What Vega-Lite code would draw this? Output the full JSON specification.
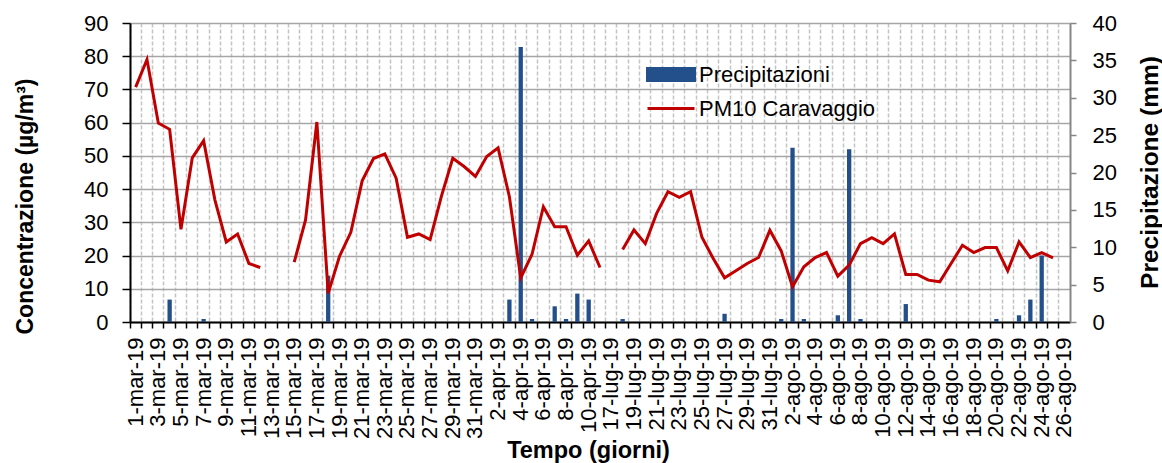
{
  "$schema": "https://vega.github.io/schema/vega-lite/v6.json",
  "width": 940,
  "height": 299,
  "autosize": {"type": "none"},
  "padding": {"left": 130, "top": 23, "right": 92, "bottom": 141},
  "config": {
    "font": "Liberation Sans",
    "view": {"stroke": null},
    "axis": {"labelFont": "Liberation Sans", "titleFont": "Liberation Sans"}
  },
  "data": {
    "values": [
      {"d": "1-mar-19", "pm": 70.7, "pr": 0},
      {"d": "2-mar-19", "pm": 79.0, "pr": 0},
      {"d": "3-mar-19", "pm": 59.9, "pr": 0},
      {"d": "4-mar-19", "pm": 58.0, "pr": 3.0},
      {"d": "5-mar-19", "pm": 27.9, "pr": 0},
      {"d": "6-mar-19", "pm": 49.4, "pr": 0},
      {"d": "7-mar-19", "pm": 54.6, "pr": 0.4},
      {"d": "8-mar-19", "pm": 36.7, "pr": 0},
      {"d": "9-mar-19", "pm": 24.1, "pr": 0},
      {"d": "10-mar-19", "pm": 26.5, "pr": 0},
      {"d": "11-mar-19", "pm": 17.6, "pr": 0},
      {"d": "12-mar-19", "pm": 16.4, "pr": 0},
      {"d": "13-mar-19", "pm": null, "pr": 0},
      {"d": "14-mar-19", "pm": null, "pr": 0},
      {"d": "15-mar-19", "pm": 18.0, "pr": 0},
      {"d": "16-mar-19", "pm": 30.7, "pr": 0},
      {"d": "17-mar-19", "pm": 60.2, "pr": 0},
      {"d": "18-mar-19", "pm": 8.6, "pr": 6.2},
      {"d": "19-mar-19", "pm": 19.8, "pr": 0},
      {"d": "20-mar-19", "pm": 27.0, "pr": 0},
      {"d": "21-mar-19", "pm": 42.5, "pr": 0},
      {"d": "22-mar-19", "pm": 49.2, "pr": 0},
      {"d": "23-mar-19", "pm": 50.6, "pr": 0},
      {"d": "24-mar-19", "pm": 43.3, "pr": 0},
      {"d": "25-mar-19", "pm": 25.5, "pr": 0},
      {"d": "26-mar-19", "pm": 26.5, "pr": 0},
      {"d": "27-mar-19", "pm": 24.8, "pr": 0},
      {"d": "28-mar-19", "pm": 37.9, "pr": 0},
      {"d": "29-mar-19", "pm": 49.3, "pr": 0},
      {"d": "30-mar-19", "pm": 46.8, "pr": 0},
      {"d": "31-mar-19", "pm": 43.8, "pr": 0},
      {"d": "1-apr-19", "pm": 49.8, "pr": 0},
      {"d": "2-apr-19", "pm": 52.4, "pr": 0},
      {"d": "3-apr-19", "pm": 37.7, "pr": 3.0},
      {"d": "4-apr-19", "pm": 13.3, "pr": 36.8},
      {"d": "5-apr-19", "pm": 20.4, "pr": 0.4},
      {"d": "6-apr-19", "pm": 34.7, "pr": 0},
      {"d": "7-apr-19", "pm": 28.7, "pr": 2.1},
      {"d": "8-apr-19", "pm": 28.7, "pr": 0.4},
      {"d": "9-apr-19", "pm": 20.1, "pr": 3.8},
      {"d": "10-apr-19", "pm": 24.4, "pr": 3.0},
      {"d": "11-apr-19", "pm": 16.4, "pr": 0},
      {"d": "17-lug-19", "pm": null, "pr": 0},
      {"d": "18-lug-19", "pm": 21.8, "pr": 0.4},
      {"d": "19-lug-19", "pm": 27.7, "pr": 0},
      {"d": "20-lug-19", "pm": 23.6, "pr": 0},
      {"d": "21-lug-19", "pm": 32.7, "pr": 0},
      {"d": "22-lug-19", "pm": 39.2, "pr": 0},
      {"d": "23-lug-19", "pm": 37.5, "pr": 0},
      {"d": "24-lug-19", "pm": 39.2, "pr": 0},
      {"d": "25-lug-19", "pm": 25.5, "pr": 0},
      {"d": "26-lug-19", "pm": 19.1, "pr": 0},
      {"d": "27-lug-19", "pm": 13.3, "pr": 1.1},
      {"d": "28-lug-19", "pm": 15.4, "pr": 0},
      {"d": "29-lug-19", "pm": 17.6, "pr": 0},
      {"d": "30-lug-19", "pm": 19.4, "pr": 0},
      {"d": "31-lug-19", "pm": 27.6, "pr": 0},
      {"d": "1-ago-19", "pm": 21.4, "pr": 0.4},
      {"d": "2-ago-19", "pm": 10.6, "pr": 23.3},
      {"d": "3-ago-19", "pm": 16.6, "pr": 0.4},
      {"d": "4-ago-19", "pm": 19.4, "pr": 0},
      {"d": "5-ago-19", "pm": 20.9, "pr": 0},
      {"d": "6-ago-19", "pm": 13.8, "pr": 0.9},
      {"d": "7-ago-19", "pm": 17.1, "pr": 23.1},
      {"d": "8-ago-19", "pm": 23.6, "pr": 0.4},
      {"d": "9-ago-19", "pm": 25.4, "pr": 0},
      {"d": "10-ago-19", "pm": 23.6, "pr": 0},
      {"d": "11-ago-19", "pm": 26.5, "pr": 0},
      {"d": "12-ago-19", "pm": 14.3, "pr": 2.4},
      {"d": "13-ago-19", "pm": 14.3, "pr": 0},
      {"d": "14-ago-19", "pm": 12.6, "pr": 0},
      {"d": "15-ago-19", "pm": 12.1, "pr": 0},
      {"d": "16-ago-19", "pm": 17.6, "pr": 0},
      {"d": "17-ago-19", "pm": 23.1, "pr": 0},
      {"d": "18-ago-19", "pm": 20.9, "pr": 0},
      {"d": "19-ago-19", "pm": 22.4, "pr": 0},
      {"d": "20-ago-19", "pm": 22.4, "pr": 0.4},
      {"d": "21-ago-19", "pm": 15.4, "pr": 0},
      {"d": "22-ago-19", "pm": 24.1, "pr": 0.9},
      {"d": "23-ago-19", "pm": 19.4, "pr": 3.0},
      {"d": "24-ago-19", "pm": 20.9, "pr": 8.9},
      {"d": "25-ago-19", "pm": 19.3, "pr": 0},
      {"d": "26-ago-19", "pm": null, "pr": 0}
    ]
  },
  "encoding": {
    "x": {
      "field": "d",
      "type": "nominal",
      "sort": null,
      "scale": {"paddingInner": 0, "paddingOuter": 0},
      "axis": {
        "title": "Tempo (giorni)",
        "titleFontSize": 23.5,
        "titleFontWeight": "bold",
        "titleColor": "black",
        "titleX": 458,
        "titleY": 135,
        "titleAlign": "center",
        "titleBaseline": "alphabetic",
        "labelAngle": -90,
        "labelFontSize": 22,
        "labelColor": "black",
        "labelPadding": 9,
        "labelOverlap": false,
        "labelFlush": false,
        "labelExpr": "indexof(domain('x'), datum.value) % 2 === 0 ? datum.value : ''",
        "bandPosition": 0,
        "grid": true,
        "gridColor": "#C4C4C4",
        "gridDash": [4, 2],
        "gridWidth": 1.5,
        "tickColor": "black",
        "tickSize": 6,
        "tickWidth": 1.5,
        "domainColor": "black",
        "domainWidth": 2
      }
    }
  },
  "layer": [
    {
      "mark": {"type": "bar", "width": {"band": 0.38}},
      "encoding": {
        "y": {
          "field": "pr",
          "type": "quantitative",
          "scale": {"domain": [0, 40], "nice": false},
          "axis": {
            "orient": "right",
            "title": "Precipitazione (mm)",
            "values": [0, 5, 10, 15, 20, 25, 30, 35, 40],
            "grid": false,
            "domainColor": "#868686",
            "domainWidth": 2,
            "tickColor": "#868686",
            "tickSize": 6,
            "tickWidth": 1.5,
            "labelFontSize": 22,
            "labelColor": "black",
            "labelPadding": 16,
            "titleFontSize": 24.5,
            "titleFontWeight": "bold",
            "titleColor": "black",
            "titleAngle": -90,
            "titleX": 87,
            "titleY": 149,
            "titleAlign": "center",
            "titleBaseline": "alphabetic"
          }
        },
        "color": {
          "datum": "Precipitazioni",
          "type": "nominal",
          "scale": {"domain": ["Precipitazioni", "PM10 Caravaggio"], "range": ["#23508A", "#C00000"]},
          "legend": {
            "orient": "none",
            "legendX": 516,
            "legendY": 34.5,
            "title": null,
            "labelFontSize": 22,
            "labelColor": "black",
            "labelFont": "Liberation Sans",
            "labelLimit": 400,
            "symbolSize": 2209,
            "clipHeight": 34,
            "rowPadding": 0,
            "labelOffset": 3,
            "padding": 0,
            "encode": {
              "symbols": {
                "update": {
                  "shape": {"signal": "datum.value === 'Precipitazioni' ? 'M-1,-0.26H1V0.26H-1Z' : 'M-1,0H1'"},
                  "fill": {"signal": "datum.value === 'Precipitazioni' ? '#23508A' : 'transparent'"},
                  "stroke": {"signal": "datum.value === 'Precipitazioni' ? 'transparent' : '#C00000'"},
                  "strokeWidth": {"value": 3},
                  "opacity": {"value": 1}
                }
              }
            }
          }
        }
      }
    },
    {
      "mark": {"type": "line", "strokeWidth": 3, "invalid": "break-paths-show-domains"},
      "encoding": {
        "y": {
          "field": "pm",
          "type": "quantitative",
          "scale": {"domain": [0, 90], "nice": false},
          "axis": {
            "orient": "left",
            "title": "Concentrazione (µg/m³)",
            "values": [0, 10, 20, 30, 40, 50, 60, 70, 80, 90],
            "grid": true,
            "gridColor": "#A6A6A6",
            "gridWidth": 1.5,
            "domainColor": "black",
            "domainWidth": 2,
            "tickColor": "black",
            "tickSize": 8,
            "tickWidth": 1.5,
            "labelFontSize": 22,
            "labelColor": "black",
            "labelPadding": 14,
            "titleFontSize": 23,
            "titleFontWeight": "bold",
            "titleColor": "black",
            "titleAngle": -90,
            "titleX": -98,
            "titleY": 183,
            "titleAlign": "center",
            "titleBaseline": "alphabetic"
          }
        },
        "color": {"datum": "PM10 Caravaggio", "type": "nominal"}
      }
    }
  ],
  "resolve": {"scale": {"y": "independent"}}
}
